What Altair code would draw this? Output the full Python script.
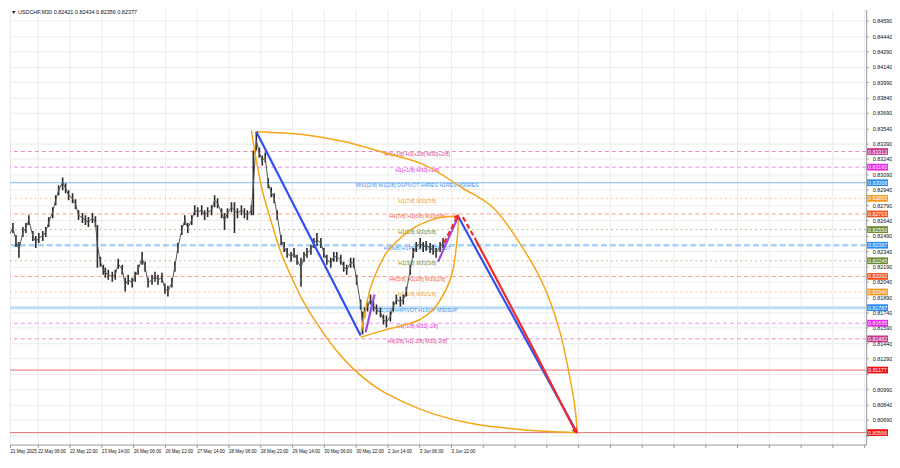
import json
import altair as alt
import pandas as pd

# ---------------- data ----------------
title_text = "\u25bc USDCHF,M30  0.82421 0.82434 0.82356 0.82377"

bar_idx = [0, 3, 7, 10, 13, 17, 20, 23, 27, 30,
           33, 37, 40, 43, 47, 50, 53, 57, 60, 63,
           67, 70, 73, 77, 80, 83, 87, 90, 92, 95,
           98, 100, 103, 107, 110, 113, 117, 120, 123, 127,
           130, 133, 137, 140, 143, 147, 150, 153, 157, 160,
           163, 167, 170, 173, 177, 180, 183, 187, 190, 193,
           197, 200, 203, 207, 210, 213, 217, 220, 223, 227,
           230, 233, 237, 240, 243, 247, 249, 252, 255, 258,
           261, 264, 267, 270, 273, 277, 280, 283, 287, 290,
           293, 297, 300, 303, 307, 310, 313, 317, 320, 323,
           327, 330, 333, 337, 340, 343, 347, 350, 353, 357,
           359, 361, 364, 367, 370, 373, 377, 380, 383, 387,
           390, 393, 397, 400, 403, 407, 410, 413, 417, 420,
           423, 427, 430, 433, 437, 440]

close = [0.82546, 0.82497, 0.82565, 0.82449, 0.82352, 0.82526, 0.82565, 0.82643, 0.82487, 0.82429,
         0.82468, 0.82487, 0.82526, 0.82623, 0.82720, 0.82837, 0.82934, 0.83012, 0.82954, 0.82886,
         0.82856, 0.82798, 0.82691, 0.82662, 0.82643, 0.82623, 0.82662, 0.82623, 0.82400, 0.82235,
         0.82157, 0.82128, 0.82109, 0.82089, 0.82109, 0.82216, 0.82157, 0.82012, 0.82060, 0.82031,
         0.82089, 0.82157, 0.82274, 0.82186, 0.82031, 0.82060, 0.82089, 0.82060, 0.82080, 0.81973,
         0.81944, 0.82031, 0.82186, 0.82371, 0.82546, 0.82643, 0.82565, 0.82643, 0.82740, 0.82720,
         0.82740, 0.82691, 0.82720, 0.82740, 0.82837, 0.82808, 0.82711, 0.82643, 0.82711, 0.82769,
         0.82740, 0.82711, 0.82740, 0.82711, 0.82691, 0.82740, 0.82983, 0.83420, 0.83303, 0.83225,
         0.83255, 0.83002, 0.82915, 0.82856, 0.82691, 0.82449, 0.82381, 0.82322, 0.82284, 0.82322,
         0.82254, 0.82177, 0.82284, 0.82322, 0.82352, 0.82420, 0.82449, 0.82420, 0.82322, 0.82254,
         0.82225, 0.82284, 0.82284, 0.82254, 0.82186, 0.82157, 0.82225, 0.82225, 0.82060, 0.81817,
         0.81623, 0.81740, 0.81798, 0.81866, 0.81798, 0.81769, 0.81740, 0.81672, 0.81643, 0.81701,
         0.81798, 0.81866, 0.81847, 0.81866, 0.81944, 0.82157, 0.82322, 0.82381, 0.82420, 0.82381,
         0.82391, 0.82371, 0.82352, 0.82322, 0.82381, 0.82420]

high = [0.82623, 0.82546, 0.82614, 0.82497, 0.82429, 0.82575, 0.82614, 0.82691, 0.82536, 0.82487,
        0.82517, 0.82536, 0.82575, 0.82672, 0.82769, 0.82886, 0.82983, 0.83060, 0.83002, 0.82934,
        0.82905, 0.82846, 0.82740, 0.82711, 0.82691, 0.82672, 0.82711, 0.82681, 0.82594, 0.82284,
        0.82206, 0.82177, 0.82157, 0.82138, 0.82157, 0.82264, 0.82206, 0.82080, 0.82109, 0.82080,
        0.82138, 0.82206, 0.82332, 0.82235, 0.82080, 0.82109, 0.82138, 0.82109, 0.82128, 0.82022,
        0.82002, 0.82080, 0.82235, 0.82420, 0.82594, 0.82691, 0.82614, 0.82691, 0.82788, 0.82769,
        0.82788, 0.82740, 0.82769, 0.82788, 0.82886, 0.82856, 0.82759, 0.82711, 0.82759, 0.82817,
        0.82817, 0.82759, 0.82788, 0.82759, 0.82740, 0.82788, 0.83323, 0.83507, 0.83352, 0.83274,
        0.83303, 0.83051, 0.82963, 0.82905, 0.82740, 0.82497, 0.82429, 0.82371, 0.82332, 0.82371,
        0.82303, 0.82274, 0.82332, 0.82371, 0.82400, 0.82468, 0.82517, 0.82468, 0.82371, 0.82303,
        0.82274, 0.82332, 0.82332, 0.82303, 0.82235, 0.82206, 0.82274, 0.82274, 0.82109, 0.81866,
        0.81749, 0.81788, 0.81847, 0.81915, 0.81847, 0.81817, 0.81788, 0.81720, 0.81711, 0.81749,
        0.81847, 0.81915, 0.81895, 0.81915, 0.81992, 0.82206, 0.82371, 0.82429, 0.82468, 0.82429,
        0.82439, 0.82420, 0.82400, 0.82371, 0.82429, 0.82468]

low = [0.82449, 0.82449, 0.82517, 0.82381, 0.82274, 0.82478, 0.82517, 0.82594, 0.82439, 0.82371,
       0.82420, 0.82439, 0.82478, 0.82575, 0.82662, 0.82788, 0.82886, 0.82934, 0.82905, 0.82837,
       0.82808, 0.82749, 0.82643, 0.82614, 0.82594, 0.82575, 0.82614, 0.82575, 0.82177, 0.82186,
       0.82109, 0.82080, 0.82060, 0.82041, 0.82060, 0.82167, 0.82109, 0.81944, 0.82012, 0.81983,
       0.82041, 0.82109, 0.82206, 0.82138, 0.81983, 0.82012, 0.82041, 0.82012, 0.82031, 0.81924,
       0.81895, 0.81983, 0.82138, 0.82322, 0.82497, 0.82594, 0.82517, 0.82594, 0.82691, 0.82672,
       0.82691, 0.82643, 0.82672, 0.82691, 0.82769, 0.82759, 0.82662, 0.82546, 0.82662, 0.82720,
       0.82517, 0.82662, 0.82691, 0.82662, 0.82643, 0.82691, 0.82691, 0.83323, 0.83255, 0.83177,
       0.83206, 0.82954, 0.82866, 0.82808, 0.82643, 0.82400, 0.82332, 0.82274, 0.82235, 0.82274,
       0.82206, 0.81992, 0.82235, 0.82274, 0.82303, 0.82371, 0.82391, 0.82371, 0.82274, 0.82206,
       0.82177, 0.82235, 0.82235, 0.82206, 0.82138, 0.82109, 0.82177, 0.82177, 0.82012, 0.81769,
       0.81526, 0.81691, 0.81749, 0.81817, 0.81749, 0.81720, 0.81691, 0.81623, 0.81594, 0.81652,
       0.81749, 0.81817, 0.81798, 0.81817, 0.81895, 0.82109, 0.82274, 0.82332, 0.82362, 0.82332,
       0.82342, 0.82322, 0.82303, 0.82274, 0.82332, 0.82371]

# Murrey-math style levels
levels = [0.83313, 0.83160, 0.83008, 0.82855, 0.82703, 0.82550, 0.82397,
          0.82245, 0.82092, 0.81940, 0.81787, 0.81635, 0.81482, 0.81177, 0.80566]
level_box_colors = ["#c8378f", "#ee22ee", "#2a8cf0", "#f59a1c", "#f4511e", "#6f8a2e", "#2a8cf0",
                    "#6f8a2e", "#f4511e", "#f59a1c", "#2a8cf0", "#ee22ee", "#c8378f", "#f01010", "#f01010"]
level_line_colors = ["#e58cc4", "#f08cf0", "#7fb8f5", "#f8c98a", "#f7a08a", "#b5c392", "#a9d0f7",
                     "#b5c392", "#f7a08a", "#f8c98a", "#bcdcfa", "#f08cf0", "#e58cc4", "#f07070", "#f07070"]
level_styles = ["dash", "dash", "solid", "dot", "dash", "dot", "wide",
                "dot", "dash", "dot", "thick", "dash", "dash", "solid", "solid"]
level_labels = ["H4[+1/8] H1[+2/8] M30[+2/8]", "H1[+1/8] M30[+1/8]",
                "MN1[2/8] W1[2/8] D1PIVOT H4RES H1RES M30RES", "H1[7/8] M30[7/8]",
                "H4[7/8] H1[6/8] M30[6/8]", "H1[5/8] M30[5/8]", "H4[6/8] H1PIVOT M30PIVOT",
                "H1[3/8] M30[3/8]", "H4[5/8] H1[2/8] M30[2/8]", "H1[1/8] M30[1/8]",
                "D1[3/8] H4PIVOT H1SUP M30SUP", "H1[-1/8] M30[-1/8]", "H4[3/8] H1[-2/8] M30[-2/8]",
                "", ""]
level_label_colors = ["#d63f98", "#e62ee6", "#3b93f0", "#f0a040", "#f4603a", "#6f8a3e", "#3b93f0",
                      "#6f8a3e", "#f4603a", "#f0a040", "#3b93f0", "#e62ee6", "#d63f98", "#f01010", "#f01010"]

time_labels = ["21 May 2025", "22 May 06:00", "22 May 22:00", "23 May 14:00", "26 May 06:00",
               "26 May 22:00", "27 May 14:00", "28 May 06:00", "28 May 22:00", "29 May 14:00",
               "30 May 06:00", "30 May 22:00", "2 Jun 14:00", "3 Jun 06:00", "3 Jun 22:00"]
x_ticks = [4] + list(range(32, 865, 32))
y_ticks = [0.84590, 0.84440, 0.84290, 0.84140, 0.83990, 0.83840, 0.83690, 0.83540, 0.83390,
           0.83240, 0.83090, 0.82940, 0.82790, 0.82640, 0.82490, 0.82340, 0.82190, 0.82040,
           0.81890, 0.81740, 0.81590, 0.81440, 0.81290, 0.81140, 0.80990, 0.80840, 0.80690, 0.80540]
# tick labels that sit under a price box in the reference
y_hidden = ["0.81140", "0.80540"]

# drawn objects (bar index, price)
blue_leg_bars = [252, 357]
blue_leg_prices = [0.83507, 0.81516]
purple1_bars = [362, 371]
purple1_prices = [0.81546, 0.81915]
purple2_bars = [435, 455]
purple2_prices = [0.82235, 0.82672]
blue_proj_bars = [455, 575]
blue_proj_prices = [0.82682, 0.80565]
red_proj_bars = [473, 530, 573]
red_proj_prices = [0.82449, 0.81400, 0.80585]
red_dash_up_bars = [441, 454]
red_dash_up_prices = [0.82420, 0.82672]
red_dash_down_bars = [460, 473]
red_dash_down_prices = [0.82672, 0.82449]

arcA_bars = [247, 252, 258, 268, 277, 290, 300, 315, 330, 350, 375, 400, 430, 470, 520, 575]
arcA_prices = [0.83517, 0.83225, 0.82934, 0.82594, 0.82322, 0.82031, 0.81837, 0.81604, 0.81400,
               0.81186, 0.80992, 0.80866, 0.80749, 0.80652, 0.80594, 0.80565]
arcB_bars = [252, 300, 340, 380, 420, 460, 490, 515, 540, 557, 567, 573, 575]
arcB_prices = [0.83507, 0.83478, 0.83410, 0.83303, 0.83187, 0.82954, 0.82769, 0.82449, 0.82031,
               0.81575, 0.81138, 0.80798, 0.80575]
arcC_bars = [357, 362, 367, 375, 383, 395, 410, 425, 440, 455]
arcC_prices = [0.81516, 0.81769, 0.81983, 0.82177, 0.82322, 0.82449, 0.82565, 0.82633, 0.82672, 0.82682]
arcD_bars = [357, 380, 400, 417, 430, 443, 450, 453, 455, 455]
arcD_prices = [0.81497, 0.81565, 0.81614, 0.81672, 0.81769, 0.81963, 0.82157, 0.82352, 0.82546, 0.82682]

# ---------------- tables ----------------
candles = pd.DataFrame({"bar": bar_idx, "close": close, "high": high, "low": low})

lv = pd.DataFrame({"level": levels, "box": level_box_colors, "line": level_line_colors,
                   "style": level_styles, "label": level_labels, "lcol": level_label_colors})
lv["txt"] = lv["level"].map(lambda v: f"{v:.5f}")


def seg_frame(name, bars, prices, color):
    return pd.DataFrame({"seg": name, "i": list(range(len(bars))), "bar": bars,
                         "price": prices, "color": color})


blue_segs = pd.concat([
    seg_frame("blue_leg", blue_leg_bars, blue_leg_prices, "#2f4ff0"),
    seg_frame("blue_proj", blue_proj_bars, blue_proj_prices, "#2f4ff0"),
    seg_frame("purple1", purple1_bars, purple1_prices, "#9b4be6"),
    seg_frame("purple2", purple2_bars, purple2_prices, "#9b4be6"),
])
red_segs = seg_frame("red_proj", red_proj_bars, red_proj_prices, "#f42a2a")
dash_segs = pd.concat([
    seg_frame("red_up", red_dash_up_bars, red_dash_up_prices, "#f42a2a"),
    seg_frame("red_down", red_dash_down_bars, red_dash_down_prices, "#f42a2a"),
])
arcs = pd.concat([
    seg_frame("A", arcA_bars, arcA_prices, "#f7a516"),
    seg_frame("B", arcB_bars, arcB_prices, "#f7a516"),
    seg_frame("C", arcC_bars, arcC_prices, "#f7a516"),
    seg_frame("D", arcD_bars, arcD_prices, "#f7a516"),
])

# ---------------- chart ----------------
W, H = 862, 438
FONT = "Liberation Sans"
xs = alt.Scale(domain=[4, 866], nice=False, zero=False)
ys = alt.Scale(domain=[0.80449, 0.84701], nice=False, zero=False)

x_label_expr = ("datum.value < 460 ? " + json.dumps(time_labels) +
                "[round(datum.value / 32)] : ''")
y_label_expr = ("indexof(" + json.dumps(y_hidden) + ", format(datum.value, '.5f')) >= 0 ? '' : "
                "format(datum.value, '.5f')")
x_axis = alt.Axis(values=x_ticks, labelExpr=x_label_expr, title=None, labelAlign="left",
                  labelFontSize=4.6, labelFont=FONT, labelColor="#111", grid=True,
                  gridColor="#ebebeb", gridWidth=1, tickColor="#999", tickSize=3,
                  domainColor="#999", labelPadding=1, labelOverlap=False, labelFlush=False,
                  labelBound=False)
y_axis = alt.Axis(orient="right", values=y_ticks, labelExpr=y_label_expr, title=None,
                  labelFontSize=5.5, labelFont=FONT, labelColor="#111", grid=True,
                  gridColor="#ebebeb", tickColor="#999", tickSize=2, domainColor="#999",
                  labelPadding=4, labelOverlap=False, labelFlush=False, labelBound=False)


def X(f):
    return alt.X(f, scale=xs, axis=x_axis)


def Y(f):
    return alt.Y(f, scale=ys, axis=y_axis)


layers = []

# level lines
style_props = {
    "dash": dict(strokeDash=[4, 3], strokeWidth=1),
    "dot": dict(strokeDash=[2, 3], strokeWidth=1),
    "solid": dict(strokeWidth=1),
    "wide": dict(strokeDash=[6, 3], strokeWidth=2.5),
    "thick": dict(strokeWidth=3),
}
for st, props in style_props.items():
    sub = lv[lv["style"] == st]
    layers.append(alt.Chart(sub).mark_rule(**props).encode(
        y=Y("level:Q"), color=alt.Color("line:N", scale=None)))

# level texts
layers.append(alt.Chart(lv[lv["label"] != ""]).mark_text(
    fontSize=5.2, font=FONT, baseline="top", align="center", dy=0.5).encode(
    x=alt.value(410), y=Y("level:Q"), text="label:N", color=alt.Color("lcol:N", scale=None)))

# candles
layers.append(alt.Chart(candles).mark_rule(color="#2a2a2a", strokeWidth=1.6, clip=True).encode(
    x=X("bar:Q"), y=Y("low:Q"), y2="high:Q"))
layers.append(alt.Chart(candles).mark_line(color="#555555", strokeWidth=1, clip=True).encode(
    x=X("bar:Q"), y=Y("close:Q")))

# arcs
layers.append(alt.Chart(arcs).mark_line(interpolate="catmull-rom", strokeWidth=1.5, clip=True).encode(
    x=X("bar:Q"), y=Y("price:Q"), detail="seg:N", order="i:Q",
    color=alt.Color("color:N", scale=None)))

# straight lines
layers.append(alt.Chart(blue_segs).mark_line(strokeWidth=2.2, clip=True).encode(
    x=X("bar:Q"), y=Y("price:Q"), detail="seg:N", order="i:Q",
    color=alt.Color("color:N", scale=None)))
layers.append(alt.Chart(red_segs).mark_line(strokeWidth=2.2, clip=True).encode(
    x=X("bar:Q"), y=Y("price:Q"), detail="seg:N", order="i:Q",
    color=alt.Color("color:N", scale=None)))
layers.append(alt.Chart(dash_segs).mark_line(strokeWidth=2.2, strokeDash=[5, 3], clip=True).encode(
    x=X("bar:Q"), y=Y("price:Q"), detail="seg:N", order="i:Q",
    color=alt.Color("color:N", scale=None)))

# arrow heads
tip_up = pd.DataFrame({"bar": [red_dash_up_bars[-1]], "price": [red_dash_up_prices[-1]]})
tip_down = pd.DataFrame({"bar": [red_proj_bars[-1]], "price": [red_proj_prices[-1]]})
layers.append(alt.Chart(tip_up).mark_point(shape="triangle", filled=True, size=40, angle=26,
                                            color="#f42a2a", opacity=1).encode(
    x=X("bar:Q"), y=Y("price:Q")))
layers.append(alt.Chart(tip_down).mark_point(shape="triangle", filled=True, size=40, angle=151,
                                              color="#f42a2a", opacity=1).encode(
    x=X("bar:Q"), y=Y("price:Q")))

# right-axis price boxes
boxes = alt.Chart(lv).transform_calculate(
    lo="datum.level - 0.00033", hi="datum.level + 0.00033")
layers.append(boxes.mark_rect().encode(
    x=alt.value(W + 1), x2=alt.value(W + 22), y=Y("lo:Q"), y2="hi:Q",
    color=alt.Color("box:N", scale=None)))
layers.append(alt.Chart(lv).mark_text(fontSize=5.3, font=FONT, color="white", align="center",
                                      baseline="middle").encode(
    x=alt.value(W + 11.5), y=Y("level:Q"), text="txt:N"))

# title
layers.append(alt.Chart(pd.DataFrame({"t": [title_text]})).mark_text(
    fontSize=5.5, font=FONT, align="left", baseline="top", color="#111").encode(
    x=alt.value(1), y=alt.value(1), text="t:N"))

chart = alt.layer(*layers).properties(width=W, height=H, padding=0, background="white").configure_view(
    strokeWidth=0)

chart.save("out.html", embed_options={"renderer": "svg", "actions": False})
